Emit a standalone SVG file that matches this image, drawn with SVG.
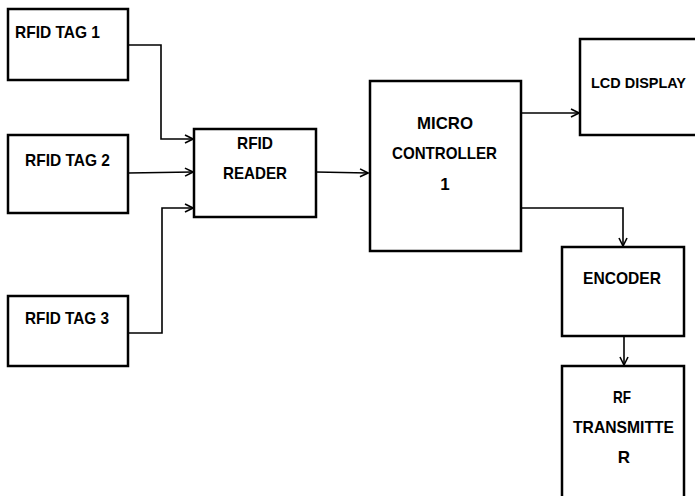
<svg xmlns="http://www.w3.org/2000/svg" width="695" height="496" viewBox="0 0 695 496">
<style>
.box{fill:#fff;stroke:#000;stroke-width:2.5}
.t{font-family:"Liberation Sans",Arial,sans-serif;font-weight:bold;font-size:17px;fill:#000}
.c{fill:none;stroke:#000;stroke-width:1.6}
</style>
<defs>
<marker id="ah" viewBox="0 0 10 10" refX="9" refY="5" markerWidth="10" markerHeight="10" markerUnits="userSpaceOnUse" orient="auto">
<path d="M1,1 L9,5 L1,9" fill="none" stroke="#000" stroke-width="1.6"/>
</marker>
</defs>
<rect width="695" height="496" fill="#fff"/>
<g id="connectors">
<polyline class="c" points="128,45 161,45 161,139 193,139" marker-end="url(#ah)"/>
<polyline class="c" points="128,173 193,172" marker-end="url(#ah)"/>
<polyline class="c" points="128,333 162,333 162,208 193,208" marker-end="url(#ah)"/>
<polyline class="c" points="316,172 368,173" marker-end="url(#ah)"/>
<polyline class="c" points="521,113 579,113" marker-end="url(#ah)"/>
<polyline class="c" points="521,208 623,208 623,246" marker-end="url(#ah)"/>
<polyline class="c" points="624,336 624,365" marker-end="url(#ah)"/>
</g>
<g id="tag1">
<rect class="box" x="8" y="9" width="120" height="71"/>
<text class="t" x="15" y="38" textLength="85" lengthAdjust="spacingAndGlyphs">RFID TAG 1</text>
</g>
<g id="tag2">
<rect class="box" x="8" y="135" width="120" height="78"/>
<text class="t" x="25" y="166" textLength="85" lengthAdjust="spacingAndGlyphs">RFID TAG 2</text>
</g>
<g id="tag3">
<rect class="box" x="8" y="296" width="120" height="70"/>
<text class="t" x="25" y="324" textLength="84" lengthAdjust="spacingAndGlyphs">RFID TAG 3</text>
</g>
<g id="reader">
<rect class="box" x="194" y="129" width="122" height="88"/>
<text class="t" x="237" y="149" textLength="36" lengthAdjust="spacingAndGlyphs">RFID</text>
<text class="t" x="223" y="179" textLength="64" lengthAdjust="spacingAndGlyphs">READER</text>
</g>
<g id="micro">
<rect class="box" x="370" y="81" width="151" height="170"/>
<text class="t" x="417" y="129" textLength="56" lengthAdjust="spacingAndGlyphs">MICRO</text>
<text class="t" x="392" y="159" textLength="105" lengthAdjust="spacingAndGlyphs">CONTROLLER</text>
<text class="t" x="445" y="190" text-anchor="middle">1</text>
</g>
<g id="lcd">
<rect class="box" x="580" y="39" width="120" height="96"/>
<text class="t" x="591" y="88" style="font-size:15px" textLength="95" lengthAdjust="spacingAndGlyphs">LCD DISPLAY</text>
</g>
<g id="encoder">
<rect class="box" x="562" y="247" width="122" height="89"/>
<text class="t" x="583" y="284" textLength="78" lengthAdjust="spacingAndGlyphs">ENCODER</text>
</g>
<g id="rftx">
<rect class="box" x="562" y="366" width="122" height="140"/>
<text class="t" x="613" y="403" textLength="18" lengthAdjust="spacingAndGlyphs">RF</text>
<text class="t" x="573" y="433" textLength="101" lengthAdjust="spacingAndGlyphs">TRANSMITTE</text>
<text class="t" x="624" y="463" text-anchor="middle">R</text>
</g>
</svg>
